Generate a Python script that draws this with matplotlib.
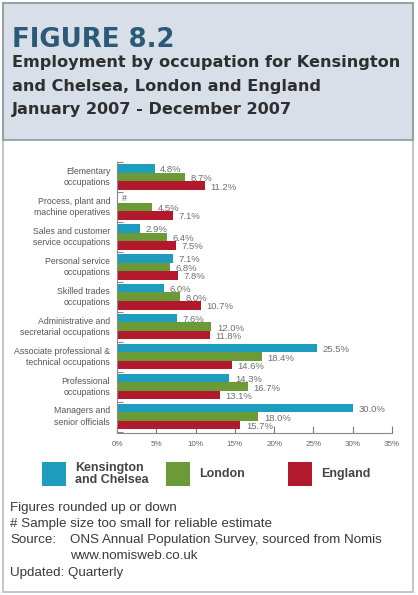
"""
Figure 8.2 : emploi par profession, Kensington et Chelsea / Londres / Angleterre, 2007.
Sortie : out.png (418 x 595 px)
"""

import matplotlib
matplotlib.use("Agg")
import matplotlib.pyplot as plt
from matplotlib.patches import Rectangle
import numpy as np

plt.rcParams["font.family"] = ["Liberation Sans", "DejaVu Sans"]

# ── Données ───────────────────────────────────────────────────────────
occupations = [
    "Elementary\noccupations",
    "Process, plant and\nmachine operatives",
    "Sales and customer\nservice occupations",
    "Personal service\noccupations",
    "Skilled trades\noccupations",
    "Administrative and\nsecretarial occupations",
    "Associate professional &\ntechnical occupations",
    "Professional\noccupations",
    "Managers and\nsenior officials",
]
kensington = [4.8, np.nan, 2.9, 7.1, 6.0, 7.6, 25.5, 14.3, 30.0]
london = [8.7, 4.5, 6.4, 6.8, 8.0, 12.0, 18.4, 16.7, 18.0]
england = [11.2, 7.1, 7.5, 7.8, 10.7, 11.8, 14.6, 13.1, 15.7]
series_names = ["Kensington\nand Chelsea", "London", "England"]
x_ticks = [0, 5, 10, 15, 20, 25, 30, 35]

COLORS = ["#1e9dbf", "#6b9b36", "#b3192c"]
W, H = 418, 595

fig = plt.figure(figsize=(W / 100, H / 100), dpi=100)
fig.patch.set_facecolor("white")


def fx(px):
    return px / W


def fy(py):
    return 1 - py / H


# ── Cadre et bandeau de titre ─────────────────────────────────────────
fig.patches.append(Rectangle((fx(3), fy(592)), fx(410), 589 / H,
                             transform=fig.transFigure, facecolor="white",
                             edgecolor="#b5bcc4", linewidth=1.2, zorder=-2))
fig.patches.append(Rectangle((fx(3), fy(140)), fx(410), 137 / H,
                             transform=fig.transFigure, facecolor="#d8dfe8",
                             edgecolor="#8e969e", linewidth=1.2, zorder=-1))

fig.text(fx(12), fy(47), "FIGURE 8.2", fontsize=18.7, fontweight="bold",
         family="DejaVu Sans", color="#2b5a76", va="baseline")
subtitle = ["Employment by occupation for Kensington",
            "and Chelsea, London and England",
            "January 2007 - December 2007"]
for k, line in enumerate(subtitle):
    fig.text(fx(12), fy(67 + 23.5 * k), line, fontsize=11.6, fontweight="bold",
             family="DejaVu Sans", color="#2f2f2f", va="baseline")

# ── Barres horizontales groupées ──────────────────────────────────────
ax = fig.add_axes([fx(117), fy(433), (392 - 117) / W, (433 - 162) / H])
ax.set_zorder(3)
y = np.arange(len(occupations))
h = 0.285
for j, (vals, col) in enumerate(zip([kensington, london, england], COLORS)):
    pos = y - h + j * h
    v = np.nan_to_num(vals)
    ax.barh(pos, v, height=h, color=col, edgecolor="none", zorder=2)
    for p, val in zip(pos, vals):
        if np.isnan(val):
            ax.text(0.6, p, "#", fontsize=6.5, color="#666666",
                    va="center", ha="left")
        else:
            ax.text(val + 0.7, p + 0.05, f"{val:.1f}%", fontsize=6.8,
                    color="#6f6f6f", va="center", ha="left", zorder=3)

ax.set_ylim(len(occupations) - 0.5 + 0.05, -0.5)
ax.set_xlim(0, 35)
ax.set_xticks(x_ticks)
ax.set_xticklabels([f"{t}%" for t in x_ticks], fontsize=5.8, color="#666666")
ax.tick_params(axis="x", direction="in", length=5, width=0.8, color="#777777", pad=6)
ax.set_yticks(np.arange(len(occupations) + 1) - 0.5)
ax.set_yticklabels([])
ax.tick_params(axis="y", direction="in", length=4, width=0.8, color="#888888")
for side in ["top", "right"]:
    ax.spines[side].set_visible(False)
for side in ["left", "bottom"]:
    ax.spines[side].set_color("#888888")
    ax.spines[side].set_linewidth(0.8)
ax.set_facecolor("none")

for yi, name in zip(y, occupations):
    ax.text(-0.025, yi, name, transform=ax.get_yaxis_transform(),
            ha="right", va="center", fontsize=6.3, color="#555555",
            linespacing=1.3)

# ── Légende ───────────────────────────────────────────────────────────
legend_x = [42, 166, 288]
for col, name, lx in zip(COLORS, series_names, legend_x):
    fig.patches.append(Rectangle((fx(lx), fy(486)), fx(24), 24 / H,
                                 transform=fig.transFigure, facecolor=col,
                                 edgecolor="none"))
    fig.text(fx(lx + 33), fy(474), name, fontsize=9, fontweight="bold",
             color="#444444", va="center", linespacing=1.05)

# ── Notes ─────────────────────────────────────────────────────────────
notes = [
    (10, 511, "Figures rounded up or down"),
    (10, 527, "# Sample size too small for reliable estimate"),
    (10, 543, "Source:"),
    (70, 543, "ONS Annual Population Survey, sourced from Nomis"),
    (70, 559, "www.nomisweb.co.uk"),
    (10, 576, "Updated: Quarterly"),
]
for nx, ny, txt in notes:
    fig.text(fx(nx), fy(ny), txt, fontsize=9.6, color="#3a3a3a", va="baseline")

fig.savefig("out.png", dpi=100)
plt.close(fig)
